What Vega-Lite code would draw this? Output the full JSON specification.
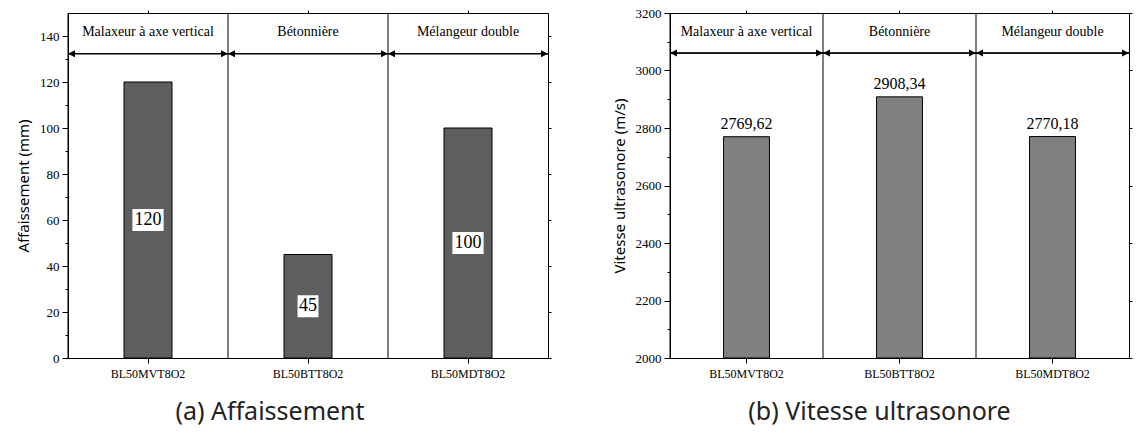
{
  "$schema": "https://vega.github.io/schema/vega-lite/v6.json",
  "background": "white",
  "padding": {"left": 16, "top": 6, "right": 5, "bottom": 5},
  "bounds": "flush",
  "spacing": 122,
  "config": {
    "font": "Liberation Serif",
    "view": {"stroke": "black", "strokeWidth": 1},
    "axis": {
      "domainColor": "black", "tickColor": "black", "labelColor": "black", "titleColor": "black",
      "labelFont": "Liberation Serif", "labelFontSize": 13,
      "titleFont": "Noto Sans", "titleFontSize": 15, "titleFontWeight": "normal",
      "grid": false, "tickSize": 6, "labelPadding": 3, "titlePadding": 8,
      "domainWidth": 1, "tickWidth": 1
    },
    "title": {"font": "Noto Sans", "fontSize": 25, "fontWeight": "normal", "color": "#222222"},
    "text": {"font": "Liberation Serif", "color": "black"}
  },
  "hconcat": [
    {
      "width": 480,
      "height": 345,
      "title": {"text": "(a) Affaissement", "orient": "bottom", "anchor": "middle", "frame": "group", "dx": -38, "offset": 21},
      "data": {"values": [
        {"cat": "BL50MVT8O2", "mixer": "Malaxeur à axe vertical", "value": 120},
        {"cat": "BL50BTT8O2", "mixer": "Bétonnière", "value": 45},
        {"cat": "BL50MDT8O2", "mixer": "Mélangeur double", "value": 100}
      ]},
      "resolve": {"axis": {"x": "independent", "y": "independent"}},
      "layer": [
        {
          "mark": {"type": "bar", "width": {"band": 0.3}, "fill": "#5e5e5e", "stroke": "black", "strokeWidth": 1},
          "encoding": {
            "x": {"field": "cat", "type": "nominal", "sort": null,
                  "scale": {"domain": ["BL50MVT8O2", "BL50BTT8O2", "BL50MDT8O2"], "paddingInner": 0, "paddingOuter": 0},
                  "axis": {"orient": "bottom", "title": null, "labelAngle": 0, "tickSize": 5, "labelFontSize": 12, "labelPadding": 5}},
            "y": {"field": "value", "type": "quantitative", "scale": {"domain": [0, 150], "nice": false},
                  "axis": {"orient": "left", "title": "Affaissement (mm)", "format": "d", "values": [0, 20, 40, 60, 80, 100, 120, 140]}}
          }
        },
        {
          "mark": {"type": "rule", "color": "black", "strokeWidth": 1},
          "encoding": {"x": {"field": "cat", "type": "nominal", "bandPosition": 0, "axis": null}}
        },
        {
          "mark": {"type": "rule", "color": "black", "strokeWidth": 1},
          "encoding": {"y": {"datum": 132.3, "type": "quantitative",
                             "axis": {"orient": "left", "values": [10, 30, 50, 70, 90, 110, 130], "labels": false, "domain": false, "tickSize": 3, "title": null}}}
        },
        {
          "mark": {"type": "point", "shape": "M0,0L2,-1L2,1Z", "size": 49, "filled": true, "color": "black", "opacity": 1, "strokeWidth": 0},
          "encoding": {
            "x": {"field": "cat", "type": "nominal", "bandPosition": 0, "axis": null},
            "y": {"datum": 132.3, "type": "quantitative", "axis": null}
          }
        },
        {
          "mark": {"type": "point", "shape": "M0,0L-2,-1L-2,1Z", "size": 49, "filled": true, "color": "black", "opacity": 1, "strokeWidth": 0},
          "encoding": {
            "x": {"field": "cat", "type": "nominal", "bandPosition": 1, "axis": null},
            "y": {"datum": 132.3, "type": "quantitative", "axis": null}
          }
        },
        {
          "mark": {"type": "text", "fontSize": 14, "baseline": "middle"},
          "encoding": {
            "x": {"field": "cat", "type": "nominal",
                  "axis": {"orient": "top", "labels": false, "domain": false, "tickSize": 3, "title": null}},
            "y": {"datum": 141.6, "type": "quantitative",
                  "axis": {"orient": "right", "values": [0, 20, 40, 60, 80, 100, 120, 140], "labels": false, "domain": false, "tickSize": 3, "title": null}},
            "text": {"field": "mixer"}
          }
        },
        {
          "transform": [{"calculate": "datum.value / 2", "as": "mid"}],
          "mark": {"type": "point", "filled": true, "color": "white", "opacity": 1, "strokeWidth": 0, "size": 484},
          "encoding": {
            "x": {"field": "cat", "type": "nominal", "axis": null},
            "y": {"field": "mid", "type": "quantitative", "axis": null},
            "shape": {"condition": {"test": "datum.value < 100", "value": "M-0.95,-1L0.95,-1L0.95,1L-0.95,1Z"}, "value": "M-1.42,-1L1.42,-1L1.42,1L-1.42,1Z"}
          }
        },
        {
          "transform": [{"calculate": "datum.value / 2", "as": "mid"}],
          "mark": {"type": "text", "fontSize": 18, "baseline": "middle"},
          "encoding": {
            "x": {"field": "cat", "type": "nominal", "axis": null},
            "y": {"field": "mid", "type": "quantitative", "axis": null},
            "text": {"field": "value", "type": "quantitative"}
          }
        }
      ]
    },
    {
      "width": 459,
      "height": 345,
      "title": {"text": "(b) Vitesse ultrasonore", "orient": "bottom", "anchor": "middle", "frame": "group", "dx": -20, "offset": 21},
      "data": {"values": [
        {"cat": "BL50MVT8O2", "mixer": "Malaxeur à axe vertical", "value": 2769.62, "label": "2769,62"},
        {"cat": "BL50BTT8O2", "mixer": "Bétonnière", "value": 2908.34, "label": "2908,34"},
        {"cat": "BL50MDT8O2", "mixer": "Mélangeur double", "value": 2770.18, "label": "2770,18"}
      ]},
      "resolve": {"axis": {"x": "independent", "y": "independent"}},
      "layer": [
        {
          "mark": {"type": "bar", "width": {"band": 0.3}, "fill": "#808080", "stroke": "black", "strokeWidth": 1},
          "encoding": {
            "x": {"field": "cat", "type": "nominal", "sort": null,
                  "scale": {"domain": ["BL50MVT8O2", "BL50BTT8O2", "BL50MDT8O2"], "paddingInner": 0, "paddingOuter": 0},
                  "axis": {"orient": "bottom", "title": null, "labelAngle": 0, "tickSize": 5, "labelFontSize": 12, "labelPadding": 5}},
            "y": {"field": "value", "type": "quantitative", "scale": {"domain": [2000, 3200], "nice": false, "zero": false},
                  "axis": {"orient": "left", "title": "Vitesse ultrasonore (m/s)", "format": "d", "values": [2000, 2200, 2400, 2600, 2800, 3000, 3200]}},
            "y2": {"datum": 2000}
          }
        },
        {
          "mark": {"type": "rule", "color": "black", "strokeWidth": 1},
          "encoding": {"x": {"field": "cat", "type": "nominal", "bandPosition": 0, "axis": null}}
        },
        {
          "mark": {"type": "rule", "color": "black", "strokeWidth": 1},
          "encoding": {"y": {"datum": 3060.6, "type": "quantitative",
                             "axis": {"orient": "left", "values": [2100, 2300, 2500, 2700, 2900, 3100], "labels": false, "domain": false, "tickSize": 3, "title": null}}}
        },
        {
          "mark": {"type": "point", "shape": "M0,0L2,-1L2,1Z", "size": 49, "filled": true, "color": "black", "opacity": 1, "strokeWidth": 0},
          "encoding": {
            "x": {"field": "cat", "type": "nominal", "bandPosition": 0, "axis": null},
            "y": {"datum": 3060.6, "type": "quantitative", "axis": null}
          }
        },
        {
          "mark": {"type": "point", "shape": "M0,0L-2,-1L-2,1Z", "size": 49, "filled": true, "color": "black", "opacity": 1, "strokeWidth": 0},
          "encoding": {
            "x": {"field": "cat", "type": "nominal", "bandPosition": 1, "axis": null},
            "y": {"datum": 3060.6, "type": "quantitative", "axis": null}
          }
        },
        {
          "mark": {"type": "text", "fontSize": 14, "baseline": "middle"},
          "encoding": {
            "x": {"field": "cat", "type": "nominal",
                  "axis": {"orient": "top", "labels": false, "domain": false, "tickSize": 3, "title": null}},
            "y": {"datum": 3134, "type": "quantitative",
                  "axis": {"orient": "right", "values": [2000, 2200, 2400, 2600, 2800, 3000, 3200], "labels": false, "domain": false, "tickSize": 3, "title": null}},
            "text": {"field": "mixer"}
          }
        },
        {
          "mark": {"type": "text", "fontSize": 16, "baseline": "bottom", "dy": -5},
          "encoding": {
            "x": {"field": "cat", "type": "nominal", "axis": null},
            "y": {"field": "value", "type": "quantitative", "axis": null},
            "text": {"field": "label"}
          }
        }
      ]
    }
  ]
}
